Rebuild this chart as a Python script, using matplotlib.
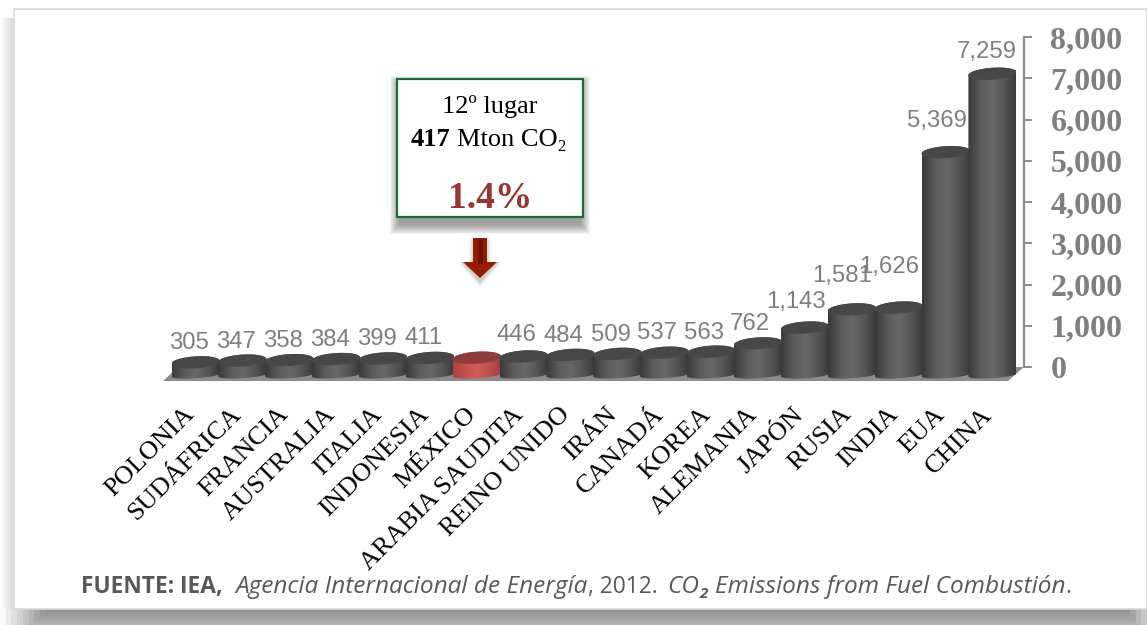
import numpy as np
import matplotlib
matplotlib.use("Agg")
import matplotlib.pyplot as plt
from matplotlib.colors import LinearSegmentedColormap
from matplotlib.patches import Polygon, Rectangle
from matplotlib.transforms import ScaledTranslation

countries = ["POLONIA", "SUDÁFRICA", "FRANCIA", "AUSTRALIA", "ITALIA", "INDONESIA",
             "MÉXICO", "ARABIA SAUDITA", "REINO UNIDO", "IRÁN", "CANADÁ", "KOREA",
             "ALEMANIA", "JAPÓN", "RUSIA", "INDIA", "EUA", "CHINA"]
emissions = [305, 347, 358, 384, 399, 411, 417, 446, 484, 509, 537, 563,
             762, 1143, 1581, 1626, 5369, 7259]
axis_ticks = [0, 1000, 2000, 3000, 4000, 5000, 6000, 7000, 8000]
highlight = "MÉXICO"

W, H = 1147, 625
GREY = "#7f7f7f"
SERIF = "Liberation Serif"

# where each value label sits relative to its bar top, in pixels
label_lift = [19, 19, 19, 19, 19, 20, 0, 21, 19, 19, 20, 19, 19, 26, 33, 41, 31, 22]
label_side = [-6, -6, -6, -6, -6, -6, 0, -7, -7, -7, -7, -7, -8, -9, -10, -10, -9, -6]

dark_cmap = LinearSegmentedColormap.from_list("dark", ["#3a3a3a", "#5a5a5a", "#686868", "#565656", "#383838"])
red_cmap = LinearSegmentedColormap.from_list("red", ["#a84543", "#c4524f", "#d05c58", "#bf504d", "#9c3f3d"])

fig = plt.figure(figsize=(W / 100, H / 100), dpi=100, facecolor="white")

# background card and shadow, in pixel coordinates
bg = fig.add_axes([0, 0, 1, 1], zorder=0)
bg.set_xlim(0, W)
bg.set_ylim(H, 0)
bg.axis("off")

left_fade = np.linspace(1.0, 0.84, 14).reshape(1, -1)
bg.imshow(left_fade, extent=(0, 14, 625, 18), cmap="gray", vmin=0, vmax=1, aspect="auto")
bottom_fade = np.linspace(0.56, 0.70, 16).reshape(-1, 1) * np.ones((16, 200))
bottom_fade[:, :8] = np.maximum(bottom_fade[:, :8], np.linspace(0.98, 0.6, 8))
bottom_fade[:, -3:] = np.maximum(bottom_fade[:, -3:], np.linspace(0.65, 0.78, 3))
bg.imshow(bottom_fade, extent=(0, W, 625, 609), cmap="gray", vmin=0, vmax=1, aspect="auto")
bg.add_patch(Rectangle((14, 9), W - 14, 600, facecolor="white", edgecolor="#d9d9d9", linewidth=1.2))
bg.set_xlim(0, W)
bg.set_ylim(H, 0)

# floor of the 3d chart
bg.add_patch(Polygon([(163, 381), (1008, 381), (1024, 367), (178, 367)], facecolor="#8c8c8c", edgecolor="none"))

# bars, y = 0 sits at pixel 375
PX_PER_UNIT = 0.0415
Y_MIN = -150
ax_left, ax_right = 172, 1016
ax_bottom = 375 - Y_MIN * PX_PER_UNIT
Y_MAX = 8000
ax_top = 375 - Y_MAX * PX_PER_UNIT
ax = fig.add_axes([ax_left / W, 1 - ax_bottom / H, (ax_right - ax_left) / W, (ax_bottom - ax_top) / H], zorder=2)
ax.patch.set_alpha(0)
for s in ax.spines.values():
    s.set_visible(False)

half = 0.515
tilt = 1.5 / PX_PER_UNIT  # right side of the ellipses rises a little


def ellipse_arc(xc, yc, semi, start, end):
    a = np.linspace(start, end, 50)
    return xc + half * np.cos(a), yc + semi * np.sin(a) + tilt * np.cos(a)


xs = np.arange(len(countries))
for x, name, val in zip(xs, countries, emissions):
    is_mx = name == highlight
    # body
    bx, by = ellipse_arc(x, 0, 3.2 / PX_PER_UNIT, np.pi, 2 * np.pi)
    tx, ty = ellipse_arc(x, val, 6 / PX_PER_UNIT, 0, np.pi)
    body = Polygon(np.column_stack([np.r_[bx, tx], np.r_[by, ty]]), transform=ax.transData,
                   facecolor="none", edgecolor="none")
    ax.add_patch(body)
    img = ax.imshow(np.linspace(0, 1, 64).reshape(1, -1), extent=(x - half, x + half, -300, val + 400),
                    cmap=red_cmap if is_mx else dark_cmap, aspect="auto", zorder=x + 2)
    img.set_clip_path(body)
    # top cap
    cx, cy = ellipse_arc(x, val, 6 / PX_PER_UNIT, 0, 2 * np.pi)
    ax.fill(cx, cy, color="#8f3b39" if is_mx else "#474747", zorder=x + 2.5, linewidth=0)
    if not is_mx:
        ax.annotate(f"{val:,}", (x, val), xytext=(label_side[x], label_lift[x]), textcoords="offset pixels",
                    ha="center", va="center", fontsize=17.2, color=GREY,
                    family="Liberation Sans", annotation_clip=False, zorder=40)

ax.set_xlim(-0.5, len(countries) - 0.5)
ax.set_ylim(Y_MIN, Y_MAX)
ax.set_yticks([])
ax.set_xticks(xs)
ax.set_xticklabels(countries, rotation=45, ha="right", va="top", rotation_mode="anchor",
                   fontsize=19, family=SERIF, color="black")
ax.tick_params(axis="x", length=0, pad=16)
shift = ScaledTranslation(-12 / 100, 0, fig.dpi_scale_trans)
for lab in ax.get_xticklabels():
    lab.set_transform(lab.get_transform() + shift)

# value axis at the right, drawn on the back wall
ax_r = fig.add_axes([1018 / W, 1 - 367 / H, 6 / W, 330 / H], zorder=1)
ax_r.patch.set_alpha(0)
ax_r.set_ylim(axis_ticks[0], axis_ticks[-1])
ax_r.set_xticks([])
for side in ["left", "top", "bottom"]:
    ax_r.spines[side].set_visible(False)
ax_r.spines["right"].set_color("#8c8c8c")
ax_r.spines["right"].set_linewidth(1.6)
ax_r.yaxis.tick_right()
ax_r.set_yticks(axis_ticks)
ax_r.set_yticklabels([f"{v:,}" for v in axis_ticks], fontsize=23, fontweight="bold",
                     family=SERIF, color=GREY)
ax_r.tick_params(axis="y", length=6, width=1.4, color="#8c8c8c", pad=13)

# overlay for callout and footer
top = fig.add_axes([0, 0, 1, 1], zorder=5)
top.set_xlim(0, W)
top.set_ylim(H, 0)
top.axis("off")
top.patch.set_alpha(0)

for grow in range(10, 0, -1):
    top.add_patch(Rectangle((397 - grow + 3, 79 + 7 - grow), 186 + 2 * grow - 6, 138 + 2 * grow,
                            facecolor="black", alpha=0.045, edgecolor="none"))
top.add_patch(Rectangle((397, 79), 186, 138, facecolor="white", edgecolor="#1b6b35", linewidth=1.6))

for grow in range(5, 0, -1):
    top.add_patch(Polygon([(474 - grow, 240), (486 + grow, 240), (486 + grow, 262), (497 + grow, 262),
                           (480, 282 + grow), (463 - grow, 262), (474 - grow, 262)],
                          facecolor="black", alpha=0.04, edgecolor="none"))
top.add_patch(Polygon([(473, 238), (487, 238), (487, 262), (497, 262), (480, 278), (463, 262), (473, 262)],
                      facecolor="#961c00", edgecolor="none"))
top.add_patch(Rectangle((477.5, 240), 5, 24, facecolor="#6d1200", edgecolor="none"))

top.text(490, 107, "12º lugar", ha="center", va="center", fontsize=19, family=SERIF, color="black")
top.text(490, 198, "1.4%", ha="center", va="center", fontsize=27, fontweight="bold", family=SERIF, color="#953735")

renderer = fig.canvas.get_renderer()


def draw_runs(x, y, runs):
    # writes text pieces one after the other on the same baseline
    for text, gap, dy, kw in runs:
        x += gap
        piece = top.text(x, y + dy, text, ha="left", va="baseline", **kw)
        x += piece.get_window_extent(renderer).width


mton = dict(family=SERIF, color="black")
draw_runs(411, 146, [
    ("417", 0, 0, dict(fontsize=19, fontweight="bold", **mton)),
    ("Mton CO", 6, 0, dict(fontsize=19, **mton)),
    ("2", 0, 5, dict(fontsize=12, **mton)),
])

foot = dict(family="Open Sans", color="#595959")
draw_runs(81, 593, [
    ("FUENTE: IEA,", 0, 0, dict(fontsize=16.4, fontweight="bold", **foot)),
    ("Agencia Internacional de Energía", 13, 0, dict(fontsize=17.6, style="italic", **foot)),
    (", 2012.", 0, 0, dict(fontsize=16.4, **foot)),
    ("CO", 10, 0, dict(fontsize=17.6, style="italic", **foot)),
    ("2", 0, 5, dict(fontsize=11, style="italic", fontweight="bold", **foot)),
    ("Emissions from Fuel Combustión", 7, 0, dict(fontsize=17.6, style="italic", **foot)),
    (".", 0, 0, dict(fontsize=16.4, **foot)),
])

fig.savefig("out.png", dpi=100)
